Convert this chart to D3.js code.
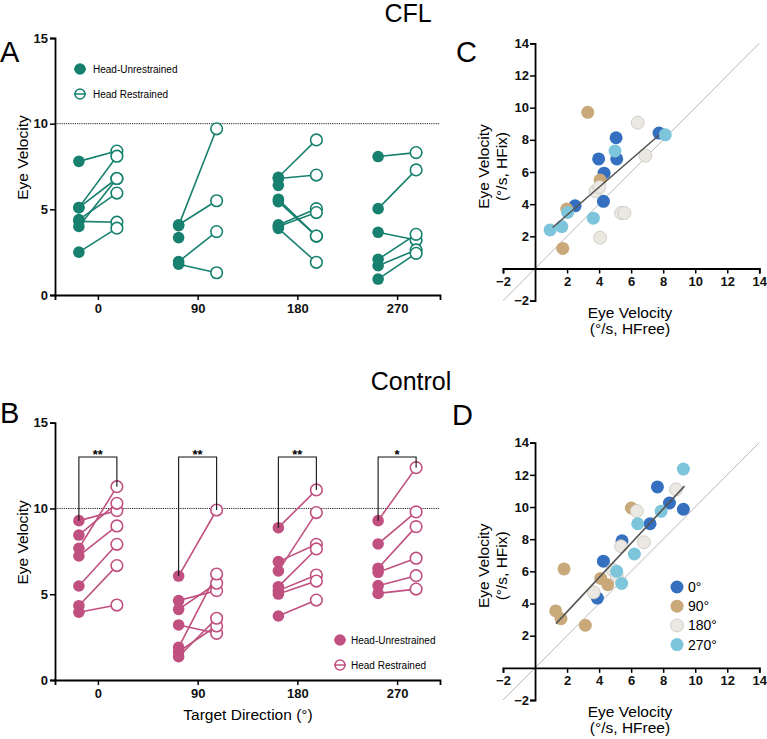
<!DOCTYPE html>
<html>
<head>
<meta charset="utf-8">
<script src="https://cdn.jsdelivr.net/npm/d3@7"></script>
<style>
  body { margin: 0; background: #fff; }
  svg { font-family: "Liberation Sans", Arial, sans-serif; }
</style>
</head>
<body>
<div id="viz"></div>
<script>
const width = 767;
const height = 739;

// target directions
const directions = [0, 90, 180, 270];

// CFL (panel A): head-free vs head-fixed pairs per direction (null = no partner)
const cflFree = [
  [7.8, 5.1, 5.1, 4.4, 4.3, 4.0, 2.5],
  [4.05, 4.1, 3.35, 1.95, 1.8],
  [6.87, 6.8, 6.4, 5.59, 5.45, 4.09, 4.0, 3.89],
  [8.08, 5.04, 3.66, 2.08, 1.71, 0.93]
];
const cflFix = [
  [8.4, 8.1, 6.8, 5.95, 4.25, 6.8, 3.9],
  [9.7, 5.5, null, 3.7, 1.3],
  [9.05, 7.0, null, 3.44, 3.44, 5.04, 4.81, 1.91],
  [8.31, 7.3, 3.21, 3.54, 2.63, 2.43]
];

// Control (panel B)
const ctlFree = [
  [9.29, 8.45, 7.68, 7.23, 5.48, 4.33, 3.95],
  [6.06, 4.63, 4.12, 3.21, 1.9, 1.65, 1.36],
  [8.88, 6.9, 6.36, 5.44, 5.21, 5.01, 3.73],
  [9.29, 7.93, 6.51, 6.28, 5.5, 5.05]
];
const ctlFix = [
  [9.87, 10.3, 11.27, 8.98, 7.91, 6.67, 4.37],
  [9.91, 5.21, 5.64, 2.72, 6.18, 3.15, 3.6],
  [11.08, 7.91, 9.76, 7.64, 6.12, 5.77, 4.66],
  [12.38, 9.8, 8.94, 7.1, 6.08, 5.3]
];
const ctlStars = ['**', '**', '**', '*'];

// scatter C (CFL), x = HFree, y = HFix
const cX = [
  [2.5, 3.97, 4.31, 4.27, 5.06, 5.1, 7.74],
  [3.29, 4.06, 1.98, 1.73],
  [6.41, 6.89, 3.77, 4.02, 4.06, 5.37, 5.58],
  [0.94, 1.67, 2.04, 3.64, 4.99, 8.13]
];
const cY = [
  [3.9, 6.81, 5.93, 4.18, 8.13, 6.81, 8.42],
  [9.71, 5.5, 3.7, 1.25],
  [9.07, 7.02, 4.81, 5.06, 1.92, 3.45, 3.45],
  [2.4, 2.61, 3.49, 3.13, 7.31, 8.31]
];
const cFit = [[1.1, 2.55], [7.75, 8.3]];

// scatter D (Control)
const dX = [
  [3.89, 4.27, 5.43, 7.18, 7.64, 8.39, 9.26],
  [1.29, 1.62, 1.81, 3.14, 4.1, 4.54, 6.01],
  [3.66, 4.85, 5.1, 5.37, 6.35, 6.8, 8.8],
  [5.1, 5.41, 6.2, 6.41, 7.87, 9.26]
];
const dY = [
  [4.34, 6.63, 7.9, 8.96, 11.25, 10.25, 9.86],
  [3.54, 3.06, 6.15, 2.65, 5.56, 5.17, 9.94],
  [4.69, 6.09, 5.73, 7.56, 9.75, 7.81, 11.1],
  [6.0, 5.25, 7.08, 8.96, 9.73, 12.36]
];
const dFit = [[1.31, 2.75], [9.33, 11.3]];

const dirLabels = ['0°', '90°', '180°', '270°'];
const dirColors = ['#3570c0', '#c9a97a', '#ebe8e2', '#7cc5db'];

const svg = d3.select('#viz')
  .append('svg')
  .attr('width', width)
  .attr('height', height)
  .attr('viewBox', [0, 0, width, height]);

// titles and panel letters
svg.append('text').attr('x', 408).attr('y', 22).attr('text-anchor', 'middle')
  .style('font-size', '25px').text('CFL');
svg.append('text').attr('x', 411).attr('y', 390).attr('text-anchor', 'middle')
  .style('font-size', '25px').text('Control');
[['A', 0, 62], ['B', 0, 423], ['C', 456, 62], ['D', 452, 425]].forEach(l => {
  svg.append('text').attr('x', l[1]).attr('y', l[2])
    .style('font-size', '29px').text(l[0]);
});

// paired plot (A / B)
function pairedPlot(free, fix, color, top, bottom, opts) {
  const x = d3.scalePoint().domain(directions).range([55, 440]).padding(0.43);
  const y = d3.scaleLinear().domain([0, 15]).range([bottom, top]);
  const off = 19;
  const g = svg.append('g');

  // reference line at 10
  g.append('line')
    .attr('x1', x.range()[0]).attr('x2', x.range()[1])
    .attr('y1', y(10)).attr('y2', y(10))
    .attr('stroke', '#222').attr('stroke-width', 1)
    .attr('stroke-dasharray', '1.2,1');

  const xAxis = g.append('g')
    .attr('transform', `translate(0,${bottom})`)
    .call(d3.axisBottom(x).tickSizeOuter(0).tickSize(5).tickPadding(4));
  const yAxis = g.append('g')
    .attr('transform', `translate(55,0)`)
    .call(d3.axisLeft(y).tickValues([0, 5, 10, 15]).tickSizeOuter(0).tickSize(5).tickPadding(2));
  [xAxis, yAxis].forEach(a => {
    a.select('.domain').attr('stroke-width', 1.8);
    a.selectAll('.tick line').attr('stroke-width', 1.5);
    a.selectAll('.tick text').style('font-size', '13px').style('font-weight', 'bold')
      .attr('fill', '#111');
  });

  // build pairs
  directions.forEach((dir, i) => {
    const cx = x(dir);
    const pairs = free[i].map((v, j) => ({a: v, b: fix[i][j]}));
    g.append('g').selectAll('line')
      .data(pairs.filter(p => p.b != null))
      .join('line')
        .attr('x1', cx - off).attr('y1', d => y(d.a))
        .attr('x2', cx + off).attr('y2', d => y(d.b))
        .attr('stroke', color).attr('stroke-width', 1.6);
    g.append('g').selectAll('circle')
      .data(pairs)
      .join('circle')
        .attr('cx', cx - off).attr('cy', d => y(d.a)).attr('r', 5.8)
        .attr('fill', color);
    g.append('g').selectAll('circle')
      .data(pairs.filter(p => p.b != null))
      .join('circle')
        .attr('cx', cx + off).attr('cy', d => y(d.b)).attr('r', 5.8)
        .attr('fill', '#fff').attr('stroke', color).attr('stroke-width', 1.6);

    if (opts.stars) {
      const yTop = y(13);
      const yl = d3.min(free[i], v => y(v));
      const yr = d3.min(fix[i].filter(v => v != null), v => y(v));
      g.append('path')
        .attr('d', `M${cx - off},${yl}V${yTop}H${cx + off}V${yr}`)
        .attr('fill', 'none').attr('stroke', '#111').attr('stroke-width', 1.1);
      g.append('text')
        .attr('x', cx).attr('y', yTop + 2)
        .attr('text-anchor', 'middle')
        .style('font-size', '13px').style('font-weight', 'bold')
        .text(opts.stars[i]);
    }
  });

  // y label
  g.append('text')
    .attr('transform', `translate(28,${(top + bottom) / 2 - 9}) rotate(-90)`)
    .attr('text-anchor', 'middle')
    .style('font-size', '15.5px')
    .text('Eye Velocity');

  // legend
  const leg = g.append('g').attr('transform', `translate(${opts.legX},${opts.legY})`);
  ['Head-Unrestrained', 'Head Restrained'].forEach((t, k) => {
    const row = leg.append('g').attr('transform', `translate(0,${k * 25})`);
    row.append('line').attr('x1', -6).attr('x2', 6).attr('stroke', color).attr('stroke-width', 1.5);
    row.append('circle').attr('r', 5)
      .attr('fill', k === 0 ? color : 'none')
      .attr('stroke', color).attr('stroke-width', 1.5);
    row.append('text').attr('x', opts.legGap).attr('dy', '0.35em')
      .style('font-size', '10px').text(t);
  });

  return x;
}

pairedPlot(cflFree, cflFix, '#17806e', 38, 295, {legX: 80, legY: 69, legGap: 13});
pairedPlot(ctlFree, ctlFix, '#c0507f', 422.7, 680, {legX: 340, legY: 640, legGap: 11, stars: ctlStars});

svg.append('text')
  .attr('x', 248).attr('y', 720).attr('text-anchor', 'middle')
  .style('font-size', '15.5px')
  .text('Target Direction (°)');

// scatter plot (C / D)
function scatterPlot(xs, ys, fit, top, bottom, showLegend) {
  const x = d3.scaleLinear().domain([-2, 14]).range([503, 759.3]);
  const y = d3.scaleLinear().domain([-2, 14]).range([bottom, top]);
  const g = svg.append('g');
  const ticks = [-2, 2, 4, 6, 8, 10, 12, 14];

  // identity line
  g.append('line')
    .attr('x1', x(-2)).attr('y1', y(-2)).attr('x2', x(14)).attr('y2', y(14))
    .attr('stroke', '#b8b8b8').attr('stroke-width', 1);

  const xAxis = g.append('g')
    .attr('transform', `translate(0,${y(0)})`)
    .call(d3.axisBottom(x).tickValues(ticks).tickSizeOuter(0).tickSize(5).tickPadding(3));
  const yAxis = g.append('g')
    .attr('transform', `translate(${x(0)},0)`)
    .call(d3.axisLeft(y).tickValues(ticks).tickSizeOuter(0).tickSize(5).tickPadding(1));
  [xAxis, yAxis].forEach(a => {
    a.select('.domain').attr('stroke-width', 1.8);
    a.selectAll('.tick line').attr('stroke-width', 1.5);
    a.selectAll('.tick text').style('font-size', '13px').style('font-weight', 'bold')
      .attr('fill', '#111');
  });

  // dots
  xs.forEach((arr, i) => {
    g.append('g').selectAll('circle')
      .data(arr.map((v, j) => [v, ys[i][j]]))
      .join('circle')
        .attr('cx', d => x(d[0])).attr('cy', d => y(d[1])).attr('r', 6.5)
        .attr('fill', dirColors[i])
        .attr('stroke', i === 2 ? '#c9c6bf' : 'none')
        .attr('stroke-width', 0.8);
  });

  // fitted line
  g.append('line')
    .attr('x1', x(fit[0][0])).attr('y1', y(fit[0][1]))
    .attr('x2', x(fit[1][0])).attr('y2', y(fit[1][1]))
    .attr('stroke', '#555').attr('stroke-width', 1.6);

  // axis labels
  g.append('text').attr('x', 630).attr('y', bottom + 17).attr('text-anchor', 'middle')
    .style('font-size', '15.5px').text('Eye Velocity');
  g.append('text').attr('x', 630).attr('y', bottom + 33).attr('text-anchor', 'middle')
    .style('font-size', '15.5px').text('(°/s, HFree)');
  const cy = y(0) - 102;
  g.append('text').attr('transform', `translate(489,${cy}) rotate(-90)`).attr('text-anchor', 'middle')
    .style('font-size', '15.5px').text('Eye Velocity');
  g.append('text').attr('transform', `translate(507,${cy}) rotate(-90)`).attr('text-anchor', 'middle')
    .style('font-size', '15.5px').text('(°/s, HFix)');

  if (showLegend) {
    const leg = g.append('g').attr('transform', 'translate(677,587)');
    dirLabels.forEach((t, k) => {
      const row = leg.append('g').attr('transform', `translate(0,${k * 19.2})`);
      row.append('circle').attr('r', 6.5).attr('fill', dirColors[k])
        .attr('stroke', k === 2 ? '#c9c6bf' : 'none').attr('stroke-width', 0.8);
      row.append('text').attr('x', 11).attr('dy', '0.36em')
        .style('font-size', '14px').text(t);
    });
  }
}

scatterPlot(cX, cY, cFit, 43.3, 300.7, false);
scatterPlot(dX, dY, dFit, 442.7, 700, true);
</script>
</body>
</html>
